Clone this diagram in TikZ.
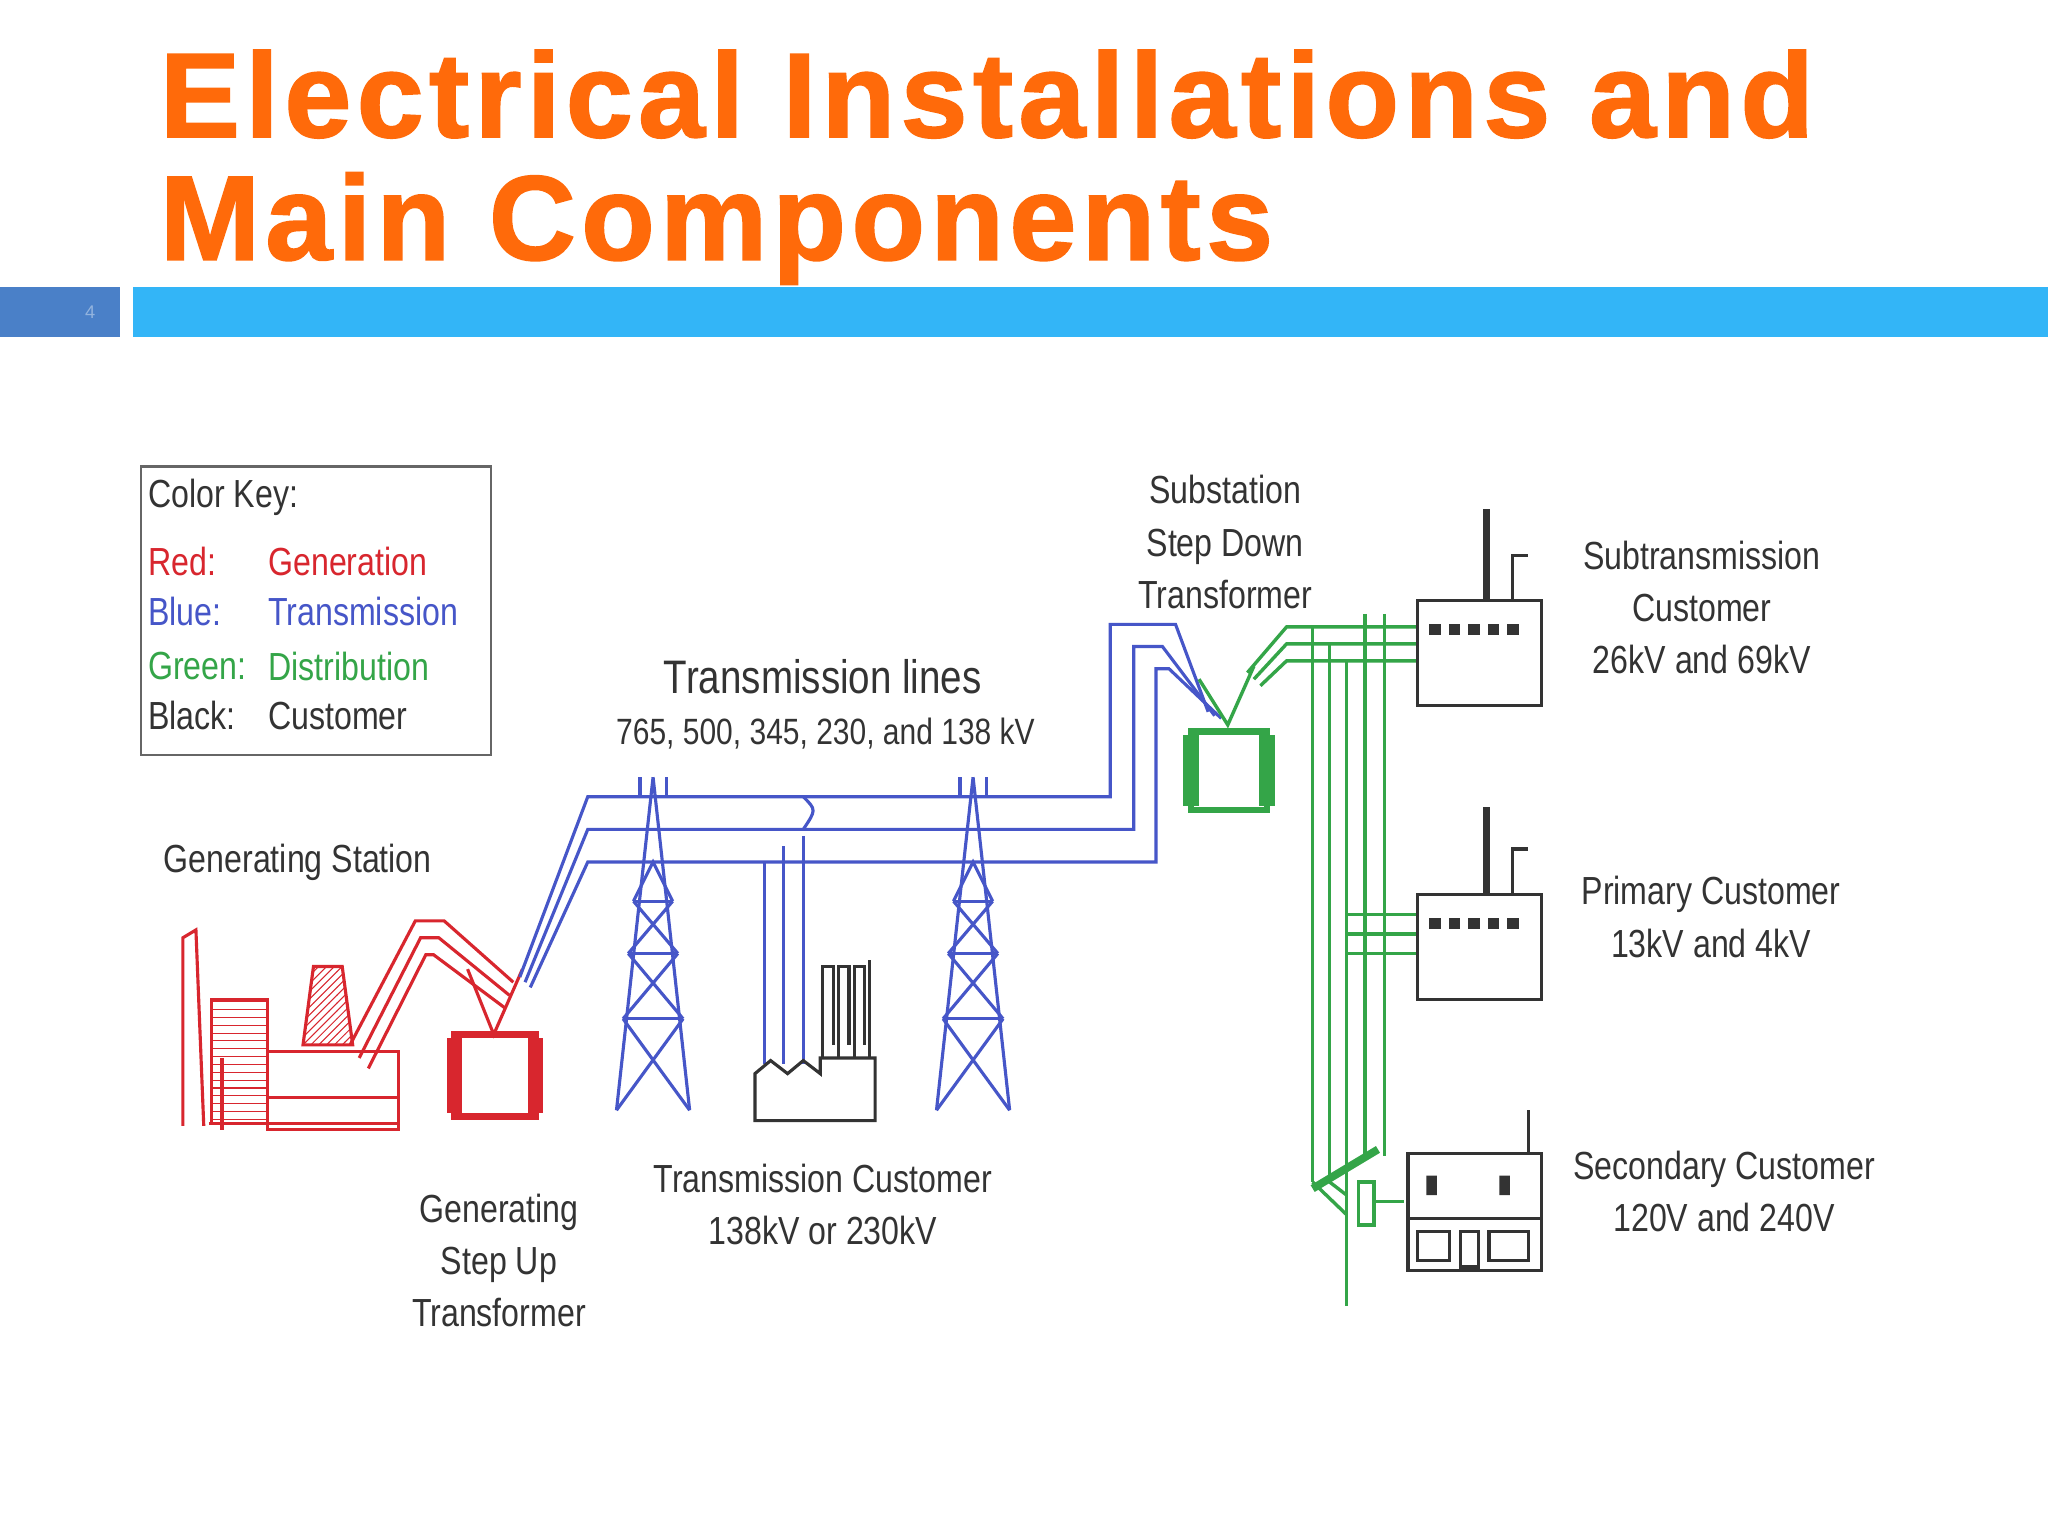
\documentclass[tikz,border=0pt]{standalone}
\usepackage{fontspec}
\setmainfont{Liberation Sans}
\newfontfamily\cond[FakeStretch=0.82]{Liberation Sans}
\newfontfamily\ttlfont[LetterSpace=4.6,FakeBold=1.5]{Liberation Sans}
\usetikzlibrary{patterns}
\definecolor{ttl}{HTML}{FF6A0A}
\definecolor{barb}{HTML}{33B5F7}
\definecolor{bars}{HTML}{4A80C8}
\definecolor{rd}{HTML}{D8262E}
\definecolor{bl}{HTML}{4656C8}
\definecolor{gr}{HTML}{34A548}
\tikzset{lbl/.style={font=\cond\fontsize{15}{16}\selectfont,align=center,inner sep=0,text=black!80},
 rl/.style={rd,line width=1.2pt},bll/.style={bl,line width=1.2pt},gl/.style={gr,line width=1.3pt},kl/.style={black!80,line width=1.2pt}}
\begin{document}
\begin{tikzpicture}[x=0.5pt,y=-0.5pt]
\useasboundingbox (0,0) rectangle (1568,1176);
\fill[white] (0,0) rectangle (1568,1176);
% title
\node[anchor=west,text=ttl,font=\ttlfont\fontsize{46}{50}\selectfont\bfseries,inner sep=0] (t1) at (122,72) {Electrical Installations and};
\node[anchor=west,text=ttl,font=\ttlfont\fontsize{46}{50}\selectfont\bfseries,inner sep=0] (t2) at (122,175) {Main Components};
\fill[bars] (0,220) rectangle (92,258);
\node[text=bars!60!white,font=\fontsize{7}{8}\selectfont] (pn) at (69,239) {4};
\fill[barb] (102,220) rectangle (1568,258);
% color key
\draw[black!60,line width=1pt] (108,357) rectangle (376,578);
\node[lbl,anchor=west] (ck) at (113,381) {Color Key:};
\node[lbl,anchor=west,text=rd] (k1) at (113,430) {Red:};
\node[lbl,anchor=west,text=rd] (k1b) at (205,430) {Generation};
\node[lbl,anchor=west,text=bl] (k2) at (113,468) {Blue:};
\node[lbl,anchor=west,text=bl] (k2b) at (205,468) {Transmission};
\node[lbl,anchor=west,text=gr] (k3) at (113,510) {Green:};
\node[lbl,anchor=west,text=gr] (k3b) at (205,510) {Distribution};
\node[lbl,anchor=west] (k4) at (113,548) {Black:};
\node[lbl,anchor=west] (k4b) at (205,548) {Customer};
% labels
\node[lbl] (gs) at (228,660) {Generating Station};
\node[lbl] (gsu) at (382,965) {Generating\\[4pt]Step Up\\[4pt]Transformer};
\node[lbl,font=\cond\fontsize{18}{19}\selectfont] (tl) at (630,518) {Transmission lines};
\node[lbl,font=\cond\fontsize{14}{15}\selectfont] (tlv) at (632,562) {765, 500, 345, 230, and 138 kV};
\node[lbl] (tc) at (630,922) {Transmission Customer\\[4pt]138kV or 230kV};
\node[lbl] (ssd) at (938,415) {Substation\\[4pt]Step Down\\[4pt]Transformer};
\node[lbl] (sc) at (1303,465) {Subtransmission\\[4pt]Customer\\[4pt]26kV and 69kV};
\node[lbl] (pc) at (1310,702) {Primary Customer\\[4pt]13kV and 4kV};
\node[lbl] (sec) at (1320,912) {Secondary Customer\\[4pt]120V and 240V};
% generating station
\draw[rl] (140,862) -- (140,718) -- (150,712) -- (156,862);
\draw[rl,pattern=horizontal lines,pattern color=rd] (162,765) rectangle (205,860);
\draw[rl] (205,805) rectangle (305,865) (160,860) -- (305,860) (170,865)--(170,810) (205,840)--(305,840);
\draw[rl,pattern=north east lines,pattern color=rd] (232,800) -- (240,740) -- (262,740) -- (270,800) -- cycle;
\draw[rl] (268,800) -- (318,705) -- (340,705) -- (393,752);
\draw[rl] (275,810) -- (322,718) -- (336,718) -- (390,762);
\draw[rl] (282,818) -- (326,731) -- (332,731) -- (387,772);
\draw[rd,line width=2.5pt] (348,792) rectangle (410,855);
\draw[rd,line width=6pt] (348,795)--(348,852) (410,795)--(410,852);
\draw[rl] (358,742) -- (378,792) -- (400,742);
% transmission lines
\draw[bll] (398,748) -- (450,610) -- (850,610) -- (850,478) -- (900,478) -- (925,545);
\draw[bll] (402,752) -- (450,635) -- (868,635) -- (868,495) -- (890,495) -- (930,548);
\draw[bll] (406,756) -- (450,660) -- (885,660) -- (885,512) -- (895,512) -- (935,550);
\foreach \tx in {500,745}{
 \draw[bll] (\tx,595) -- (\tx-28,850) (\tx,595) -- (\tx+28,850);
 \draw[bll] (\tx-10,595) -- (\tx-10,610) (\tx+10,595)--(\tx+10,610);
 \draw[bll] (\tx-15,690)--(\tx+15,690) (\tx-19,730)--(\tx+19,730) (\tx-23,780)--(\tx+23,780);
 \draw[bll] (\tx-15,690)--(\tx+19,730) (\tx+15,690)--(\tx-19,730);
 \draw[bll] (\tx-19,730)--(\tx+23,780) (\tx+19,730)--(\tx-23,780);
 \draw[bll] (\tx-23,780)--(\tx+28,850) (\tx+23,780)--(\tx-28,850);
 \draw[bll] (\tx-15,690)--(\tx,660)--(\tx+15,690);
}
\draw[bll] (585,660)--(585,815) (600,648)--(600,815) (615,640)--(615,815);
\draw[bll] (615,610) .. controls (625,620) .. (615,635);
% transmission customer
\draw[kl] (578,858) -- (578,822) -- (590,812) -- (603,822) -- (615,812) -- (628,822) -- (628,810) -- (670,810) -- (670,858) -- cycle;
\foreach \px in {630,642,654}{\draw[kl] (\px,810) -- (\px,740) -- (\px+8,740) -- (\px+8,800);}
\draw[kl] (666,810)--(666,735);
% substation
\draw[gr,line width=2.5pt] (912,560) rectangle (970,620);
\draw[gr,line width=6pt] (912,563)--(912,617) (970,563)--(970,617);
\draw[gl] (918,520) -- (940,555) -- (960,510);
\draw[gl] (955,515) -- (985,480) -- (1085,480);
\draw[gl] (960,520) -- (985,493) -- (1085,493);
\draw[gl] (965,525) -- (985,506) -- (1085,506);
\draw[gl] (1005,480)--(1005,905) (1018,493)--(1018,905) (1031,506)--(1031,1000);
\draw[gl] (1045,470)--(1045,885) (1060,470)--(1060,885);
\draw[gl] (1031,700)--(1085,700) (1031,715)--(1085,715) (1031,730)--(1085,730);
\draw[gr,line width=3pt] (1005,910)--(1055,880);
\draw[gl] (1005,905)--(1031,930) (1018,905)--(1031,915);
\draw[gl] (1040,905) rectangle (1052,938);
\draw[gl] (1052,920)--(1075,920);
% customers
\foreach \cy/\ch in {460/390,685/618}{
 \draw[kl] (1085,\cy) rectangle (1180,\cy+80);
 \draw[black!80,line width=2.5pt] (1138,\cy)--(1138,\ch);
 \draw[kl] (1158,\cy) -- (1158,\cy-35) -- (1170,\cy-35);
 \foreach \w in {0,1,2,3,4}{\fill[black!80] (1094+\w*15,\cy+18) rectangle (1103+\w*15,\cy+26);}
}
\draw[kl] (1078,883) rectangle (1180,973);
\draw[kl] (1078,933)--(1180,933) (1170,883)--(1170,850);
\fill[black!80] (1092,900) rectangle (1100,915) (1148,900) rectangle (1156,915);
\draw[kl] (1085,943) rectangle (1110,965) (1118,943) rectangle (1132,970) (1140,943) rectangle (1170,965);
\end{tikzpicture}
\end{document}
